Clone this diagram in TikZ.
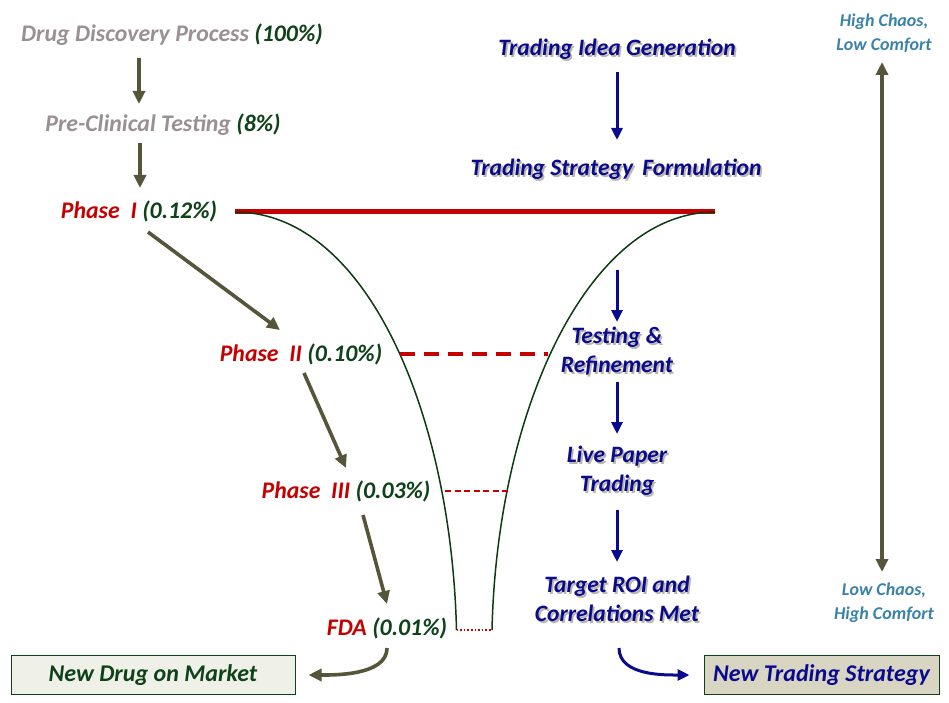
\documentclass[tikz,border=0pt]{standalone}
\usepackage{fontspec}
\setmainfont{Carlito}
\usetikzlibrary{arrows.meta,calc}
\definecolor{olivearr}{HTML}{55553A}
\definecolor{navy}{HTML}{0A0A8C}
\definecolor{dgreen}{HTML}{0E4219}
\definecolor{phred}{HTML}{C40000}
\definecolor{greytxt}{HTML}{9A9094}
\definecolor{chaosblue}{HTML}{3A82A8}
\definecolor{shgray}{HTML}{BAB6AE}
\definecolor{boxA}{HTML}{EFF1E9}
\definecolor{boxB}{HTML}{D9D5C3}
\definecolor{funnel}{HTML}{0E3A14}
\newcommand\shd[1]{\leavevmode\rlap{\kern1.8pt\raisebox{-1.8pt}{\color{shgray}#1}}#1}
\tikzset{
  lbl/.style={font=\fontsize{23.8}{28}\selectfont\bfseries\itshape, inner sep=0pt, anchor=center},
  blu/.style={lbl, text=navy, align=center, font=\fontsize{23.5}{29}\selectfont\bfseries\itshape},
  chaos/.style={lbl, text=chaosblue, align=center, font=\fontsize{18}{24}\selectfont\bfseries\itshape},
  oarr/.style={draw=olivearr, line width=3.6pt, -{Triangle[length=13pt,width=12pt]}},
  barr/.style={draw=navy, line width=3pt, -{Triangle[length=12pt,width=11pt]}},
  curve/.style={draw=funnel, line width=1.5pt},
  endbox/.style={draw=dgreen, line width=1pt, minimum height=39pt, inner sep=0pt, font=\fontsize{24}{28}\selectfont\bfseries\itshape}
}
\begin{document}
\begin{tikzpicture}[x=1pt,y=-1pt]
\useasboundingbox (0,0) rectangle (949,703);
\fill[white] (0,0) rectangle (949,703);

% left column texts
\node[lbl] (ddp) at (172,35) {\textcolor{greytxt}{Drug Discovery Process} \textcolor{dgreen}{(100\%)}};
\node[lbl] (pct) at (163,125) {\textcolor{greytxt}{Pre-Clinical Testing} \textcolor{dgreen}{(8\%)}};
\node[lbl] (p1) at (139,211) {\textcolor{phred}{Phase~~I} \textcolor{dgreen}{(0.12\%)}};
\node[lbl] (p2) at (301,354) {\textcolor{phred}{Phase~~II} \textcolor{dgreen}{(0.10\%)}};
\node[lbl] (p3) at (346,491) {\textcolor{phred}{Phase~~III} \textcolor{dgreen}{(0.03\%)}};
\node[lbl] (fda) at (387,628) {\textcolor{phred}{FDA} \textcolor{dgreen}{(0.01\%)}};

\node[endbox, fill=boxA, text=dgreen, minimum width=284pt] (ndm) at (153,675) {New Drug on Market};
\node[endbox, fill=boxB, text=navy, minimum width=235pt] (nts) at (821.5,675) {New Trading Strategy};

% olive arrows
\draw[oarr] ([xshift=-33pt,yshift=-23pt]ddp.center) -- ([xshift=-24pt,yshift=21pt]pct.center);
\draw[oarr] ([xshift=-23pt,yshift=-18pt]pct.center) -- ([xshift=1pt,yshift=23pt]p1.center);
\draw[oarr] ([xshift=9pt,yshift=-21pt]p1.center) -- ([xshift=-21pt,yshift=24pt]p2.center);
\draw[oarr] ([xshift=3pt,yshift=-19pt]p2.center) -- ([xshift=0pt,yshift=23pt]p3.center);
\draw[oarr] ([xshift=17pt,yshift=-24pt]p3.center) -- ([xshift=0pt,yshift=24pt]fda.center);
\draw[oarr] ([yshift=-20pt]fda.center) .. controls +(0,28) and +(24,0) .. ([xshift=13pt]ndm.east);

% funnel
\coordinate (fl0) at (235,212);
\coordinate (fr0) at (715,212);
\coordinate (flb) at (456.5,630);
\coordinate (frb) at (492,630);
\draw[phred, line width=5pt] ([xshift=96pt,yshift=-1pt]p1.center) -- (fr0);
\draw[curve] (fl0) .. controls (365,212) and (451,410) .. (flb);
\draw[curve] (fr0) .. controls (588,212) and (497,410) .. (frb);
\draw[phred, line width=3.8pt, dash pattern=on 15pt off 9pt] ([xshift=99pt]p2.center) -- ++(148,0) coordinate (d2e);
\draw[phred, line width=2.6pt, dash pattern=on 6pt off 3.5pt] ([xshift=99pt]p3.center) -- ++(63,0) coordinate (d3e);
\draw[phred, line width=1.4pt, dash pattern=on 1.6pt off 2pt] (flb) -- (frb);

% trading column
\node[blu] (tig) at (617,50) {\shd{Trading Idea Generation}};
\node[blu] (tsf) at (616,170) {\shd{Trading Strategy\, Formulation}};
\node[blu] (tr) at (617,352) {\shd{Testing \&}\\\shd{Refinement}};
\node[blu] (lpt) at (617,472) {\shd{Live Paper}\\\shd{Trading}};
\node[blu] (roi) at (617,600) {\shd{Target ROI and}\\\shd{Correlations Met}};

\draw[barr] ([yshift=-22pt]tig.center) -- ([xshift=1pt,yshift=30pt]tsf.center);
\draw[barr] ([xshift=1pt,yshift=-100pt]tsf.center) -- ([yshift=30pt]tr.center);
\draw[barr] ([yshift=-30pt]tr.center) -- ([yshift=38pt]lpt.center);
\draw[barr] ([yshift=-38pt]lpt.center) -- ([yshift=38pt]roi.center);
\draw[barr] ([xshift=2pt,yshift=-48pt]roi.center) .. controls +(0,28) and +(-24,0) .. ([xshift=-14pt]nts.west);

% chaos scale
\node[chaos] (hc) at (884,33) {High Chaos,\\Low Comfort};
\node[chaos] (lc) at (884,603) {Low Chaos,\\High Comfort};
\draw[draw=olivearr, line width=3.6pt, {Triangle[length=13pt,width=12pt]}-{Triangle[length=13pt,width=12pt]}] ([xshift=-2pt,yshift=-29pt]hc.center) -- ([xshift=-2pt,yshift=31pt]lc.center);
\end{tikzpicture}
\end{document}
